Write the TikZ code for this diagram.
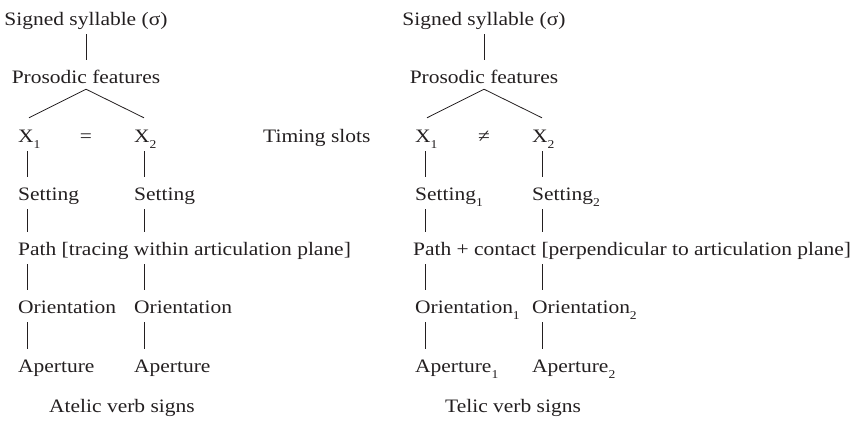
\documentclass[tikz,border=0pt]{standalone}
\usepackage{fontspec}
\setmainfont[FakeStretch=1.13]{Liberation Serif}
\usetikzlibrary{calc}
\definecolor{ink}{HTML}{231F20}
% lowered numeric index after a label
\newcommand{\idx}[1]{\raisebox{-6pt}{\fontsize{12}{12}\selectfont #1}}
\begin{document}
\begin{tikzpicture}[x=1pt,y=1pt,
  lbl/.style={inner sep=0pt, text height=12pt, text depth=3pt,
    font=\fontsize{19}{23}\selectfont, text=ink},
  lw/.style={lbl, anchor=base west},
  lc/.style={lbl, anchor=base},
  vlink/.style={draw=ink, line width=0.8pt, shorten <=6pt, shorten >=11pt},
  blink/.style={draw=ink, line width=0.8pt}]
\useasboundingbox (0,0) rectangle (856,-429);

% ---------- atelic tree ----------
\coordinate (aA) at (27,0);
\coordinate (aB) at (144,0);
\node[lc] (ass) at (86,-25) {Signed syllable (σ)};
\node[lc] (apf) at (86,-83) {Prosodic features};
\node[lw] (ax1) at (18,-142) {X\idx{1}};
\node[lc] (aeq) at (86,-142) {=};
\node[lw] (ax2) at (134,-142) {X\idx{2}};
\node[lw] (as1) at (18,-200) {Setting};
\node[lw] (as2) at (134,-200) {Setting};
\node[lw] (apath) at (18,-255) {Path [tracing within articulation plane]};
\node[lw] (ao1) at (18,-313) {Orientation};
\node[lw] (ao2) at (134,-313) {Orientation};
\node[lw] (aap1) at (18,-372) {Aperture};
\node[lw] (aap2) at (134,-372) {Aperture};
\node[lw] (acap) at (49,-412) {Atelic verb signs};

\draw[vlink] (ass.south) -- (apf.north);
\draw[blink] ($(apf.south)+(0,-3pt)$) -- ($(ax1.north -| aA)+(2pt,12pt)$);
\draw[blink] ($(apf.south)+(0,-3pt)$) -- ($(ax2.north -| aB)+(0,12pt)$);
\draw[vlink] (ax1.south -| aA) -- (as1.north -| aA);
\draw[vlink] (ax2.south -| aB) -- (as2.north -| aB);
\draw[vlink] (as1.south -| aA) -- (apath.north -| aA);
\draw[vlink] (as2.south -| aB) -- (apath.north -| aB);
\draw[vlink] (apath.south -| aA) -- (ao1.north -| aA);
\draw[vlink] (apath.south -| aB) -- (ao2.north -| aB);
\draw[vlink] (ao1.south -| aA) -- (aap1.north -| aA);
\draw[vlink] (ao2.south -| aB) -- (aap2.north -| aB);

% ---------- middle label ----------
\node[lw] (slots) at (263,-142) {Timing slots};

% ---------- telic tree ----------
\coordinate (tA) at (425,0);
\coordinate (tB) at (542,0);
\node[lc] (tss) at (484,-25) {Signed syllable (σ)};
\node[lc] (tpf) at (484,-83) {Prosodic features};
\node[lw] (tx1) at (415,-142) {X\idx{1}};
\node[lc] (tne) at (484,-142) {≠};
\node[lw] (tx2) at (532,-142) {X\idx{2}};
\node[lw] (ts1) at (415,-200) {Setting\idx{1}};
\node[lw] (ts2) at (532,-200) {Setting\idx{2}};
\node[lw] (tpath) at (413,-255) {Path + contact [perpendicular to articulation plane]};
\node[lw] (to1) at (415,-313) {Orientation\idx{1}};
\node[lw] (to2) at (532,-313) {Orientation\idx{2}};
\node[lw] (tap1) at (415,-372) {Aperture\idx{1}};
\node[lw] (tap2) at (532,-372) {Aperture\idx{2}};
\node[lw] (tcap) at (445,-412) {Telic verb signs};

\draw[vlink] (tss.south) -- (tpf.north);
\draw[blink] ($(tpf.south)+(0,-3pt)$) -- ($(tx1.north -| tA)+(2pt,12pt)$);
\draw[blink] ($(tpf.south)+(0,-3pt)$) -- ($(tx2.north -| tB)+(0,12pt)$);
\draw[vlink] (tx1.south -| tA) -- (ts1.north -| tA);
\draw[vlink] (tx2.south -| tB) -- (ts2.north -| tB);
\draw[vlink] (ts1.south -| tA) -- (tpath.north -| tA);
\draw[vlink] (ts2.south -| tB) -- (tpath.north -| tB);
\draw[vlink] (tpath.south -| tA) -- (to1.north -| tA);
\draw[vlink] (tpath.south -| tB) -- (to2.north -| tB);
\draw[vlink] (to1.south -| tA) -- (tap1.north -| tA);
\draw[vlink] (to2.south -| tB) -- (tap2.north -| tB);
\end{tikzpicture}
\end{document}
